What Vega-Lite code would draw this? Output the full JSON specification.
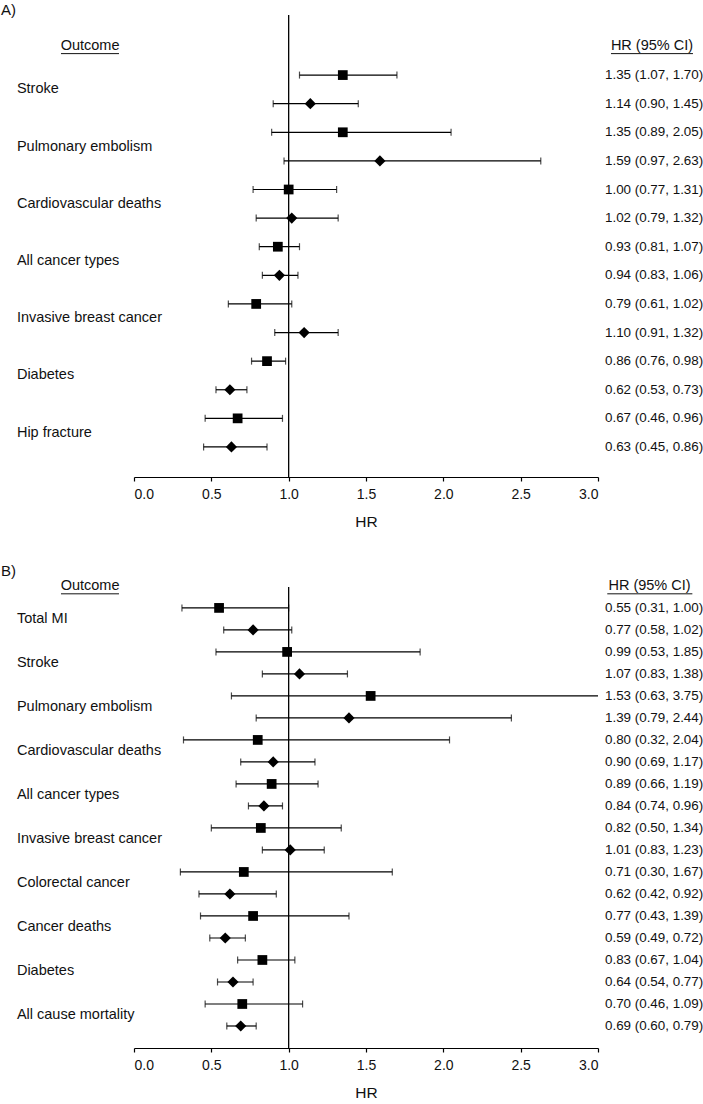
{
  "$schema": "https://vega.github.io/schema/vega-lite/v6.json",
  "padding": {"left": 0, "top": 3, "right": 0, "bottom": 0},
  "spacing": 110,
  "bounds": "flush",
  "config": {
    "view": {"stroke": null},
    "font": "Liberation Sans",
    "axis": {"domainColor": "#000", "tickColor": "#000", "labelColor": "#111", "titleColor": "#111", "labelFontSize": 14, "titleFontSize": 15.5, "titleFontWeight": "normal", "tickSize": 4, "labelPadding": 6, "titlePadding": 13, "grid": false, "domainWidth": 1.2, "tickWidth": 1.2},
    "text": {"color": "#111"}
  },
  "datasets": {
    "a": [
      {"outcome": "Stroke", "row": 0, "shape": "square", "hr": 1.35, "lo": 1.07, "hi": 1.70, "ci": "1.35 (1.07, 1.70)"},
      {"outcome": "Stroke", "row": 1, "shape": "diamond", "hr": 1.14, "lo": 0.90, "hi": 1.45, "ci": "1.14 (0.90, 1.45)"},
      {"outcome": "Pulmonary embolism", "row": 2, "shape": "square", "hr": 1.35, "lo": 0.89, "hi": 2.05, "ci": "1.35 (0.89, 2.05)"},
      {"outcome": "Pulmonary embolism", "row": 3, "shape": "diamond", "hr": 1.59, "lo": 0.97, "hi": 2.63, "ci": "1.59 (0.97, 2.63)"},
      {"outcome": "Cardiovascular deaths", "row": 4, "shape": "square", "hr": 1.00, "lo": 0.77, "hi": 1.31, "ci": "1.00 (0.77, 1.31)"},
      {"outcome": "Cardiovascular deaths", "row": 5, "shape": "diamond", "hr": 1.02, "lo": 0.79, "hi": 1.32, "ci": "1.02 (0.79, 1.32)"},
      {"outcome": "All cancer types", "row": 6, "shape": "square", "hr": 0.93, "lo": 0.81, "hi": 1.07, "ci": "0.93 (0.81, 1.07)"},
      {"outcome": "All cancer types", "row": 7, "shape": "diamond", "hr": 0.94, "lo": 0.83, "hi": 1.06, "ci": "0.94 (0.83, 1.06)"},
      {"outcome": "Invasive breast cancer", "row": 8, "shape": "square", "hr": 0.79, "lo": 0.61, "hi": 1.02, "ci": "0.79 (0.61, 1.02)"},
      {"outcome": "Invasive breast cancer", "row": 9, "shape": "diamond", "hr": 1.10, "lo": 0.91, "hi": 1.32, "ci": "1.10 (0.91, 1.32)"},
      {"outcome": "Diabetes", "row": 10, "shape": "square", "hr": 0.86, "lo": 0.76, "hi": 0.98, "ci": "0.86 (0.76, 0.98)"},
      {"outcome": "Diabetes", "row": 11, "shape": "diamond", "hr": 0.62, "lo": 0.53, "hi": 0.73, "ci": "0.62 (0.53, 0.73)"},
      {"outcome": "Hip fracture", "row": 12, "shape": "square", "hr": 0.67, "lo": 0.46, "hi": 0.96, "ci": "0.67 (0.46, 0.96)"},
      {"outcome": "Hip fracture", "row": 13, "shape": "diamond", "hr": 0.63, "lo": 0.45, "hi": 0.86, "ci": "0.63 (0.45, 0.86)"}
    ],
    "b": [
      {"outcome": "Total MI", "row": 0, "shape": "square", "hr": 0.55, "lo": 0.31, "hi": 1.00, "ci": "0.55 (0.31, 1.00)"},
      {"outcome": "Total MI", "row": 1, "shape": "diamond", "hr": 0.77, "lo": 0.58, "hi": 1.02, "ci": "0.77 (0.58, 1.02)"},
      {"outcome": "Stroke", "row": 2, "shape": "square", "hr": 0.99, "lo": 0.53, "hi": 1.85, "ci": "0.99 (0.53, 1.85)"},
      {"outcome": "Stroke", "row": 3, "shape": "diamond", "hr": 1.07, "lo": 0.83, "hi": 1.38, "ci": "1.07 (0.83, 1.38)"},
      {"outcome": "Pulmonary embolism", "row": 4, "shape": "square", "hr": 1.53, "lo": 0.63, "hi": 3.75, "ci": "1.53 (0.63, 3.75)"},
      {"outcome": "Pulmonary embolism", "row": 5, "shape": "diamond", "hr": 1.39, "lo": 0.79, "hi": 2.44, "ci": "1.39 (0.79, 2.44)"},
      {"outcome": "Cardiovascular deaths", "row": 6, "shape": "square", "hr": 0.80, "lo": 0.32, "hi": 2.04, "ci": "0.80 (0.32, 2.04)"},
      {"outcome": "Cardiovascular deaths", "row": 7, "shape": "diamond", "hr": 0.90, "lo": 0.69, "hi": 1.17, "ci": "0.90 (0.69, 1.17)"},
      {"outcome": "All cancer types", "row": 8, "shape": "square", "hr": 0.89, "lo": 0.66, "hi": 1.19, "ci": "0.89 (0.66, 1.19)"},
      {"outcome": "All cancer types", "row": 9, "shape": "diamond", "hr": 0.84, "lo": 0.74, "hi": 0.96, "ci": "0.84 (0.74, 0.96)"},
      {"outcome": "Invasive breast cancer", "row": 10, "shape": "square", "hr": 0.82, "lo": 0.50, "hi": 1.34, "ci": "0.82 (0.50, 1.34)"},
      {"outcome": "Invasive breast cancer", "row": 11, "shape": "diamond", "hr": 1.01, "lo": 0.83, "hi": 1.23, "ci": "1.01 (0.83, 1.23)"},
      {"outcome": "Colorectal cancer", "row": 12, "shape": "square", "hr": 0.71, "lo": 0.30, "hi": 1.67, "ci": "0.71 (0.30, 1.67)"},
      {"outcome": "Colorectal cancer", "row": 13, "shape": "diamond", "hr": 0.62, "lo": 0.42, "hi": 0.92, "ci": "0.62 (0.42, 0.92)"},
      {"outcome": "Cancer deaths", "row": 14, "shape": "square", "hr": 0.77, "lo": 0.43, "hi": 1.39, "ci": "0.77 (0.43, 1.39)"},
      {"outcome": "Cancer deaths", "row": 15, "shape": "diamond", "hr": 0.59, "lo": 0.49, "hi": 0.72, "ci": "0.59 (0.49, 0.72)"},
      {"outcome": "Diabetes", "row": 16, "shape": "square", "hr": 0.83, "lo": 0.67, "hi": 1.04, "ci": "0.83 (0.67, 1.04)"},
      {"outcome": "Diabetes", "row": 17, "shape": "diamond", "hr": 0.64, "lo": 0.54, "hi": 0.77, "ci": "0.64 (0.54, 0.77)"},
      {"outcome": "All cause mortality", "row": 18, "shape": "square", "hr": 0.70, "lo": 0.46, "hi": 1.09, "ci": "0.70 (0.46, 1.09)"},
      {"outcome": "All cause mortality", "row": 19, "shape": "diamond", "hr": 0.69, "lo": 0.60, "hi": 0.79, "ci": "0.69 (0.60, 0.79)"}
    ]
  },
  "vconcat": [
    {
      "width": 464,
      "height": 462,
      "layer": [
        {
          "data": {"values": [{}]},
          "mark": {"type": "rule", "color": "#000", "strokeWidth": 1.3},
          "encoding": {"x": {"datum": 1, "type": "quantitative", "scale": {"domain": [0, 3], "nice": false, "zero": false}, "axis": {"title": "HR", "values": [0, 0.5, 1, 1.5, 2, 2.5, 3], "format": ".1f"}}}
        },
        {
          "data": {"name": "a"},
          "mark": {"type": "rule", "color": "#000", "strokeWidth": 1.2, "clip": true},
          "encoding": {
            "x": {"field": "lo", "type": "quantitative"},
            "x2": {"field": "hi"},
            "y": {"field": "row", "type": "quantitative", "scale": {"domain": [-2.1, 14.05], "reverse": true, "nice": false, "zero": false}, "axis": null}
          }
        },
        {
          "data": {"name": "a"},
          "mark": {"type": "tick", "orient": "vertical", "color": "#000", "size": 7, "thickness": 1.2, "clip": true},
          "encoding": {"x": {"field": "lo", "type": "quantitative"}, "y": {"field": "row", "type": "quantitative"}}
        },
        {
          "data": {"name": "a"},
          "mark": {"type": "tick", "orient": "vertical", "color": "#000", "size": 7, "thickness": 1.2, "clip": true},
          "encoding": {"x": {"field": "hi", "type": "quantitative"}, "y": {"field": "row", "type": "quantitative"}}
        },
        {
          "data": {"name": "a"},
          "mark": {"type": "point", "filled": true, "color": "#000", "opacity": 1},
          "encoding": {
            "x": {"field": "hr", "type": "quantitative"},
            "y": {"field": "row", "type": "quantitative"},
            "shape": {"field": "shape", "type": "nominal", "scale": {"domain": ["square", "diamond"], "range": ["square", "diamond"]}, "legend": null},
            "size": {"field": "shape", "type": "nominal", "scale": {"domain": ["square", "diamond"], "range": [95, 125]}, "legend": null}
          }
        },
        {
          "data": {"name": "a"},
          "mark": {"type": "text", "align": "left", "baseline": "middle", "fontSize": 13.4},
          "encoding": {"x": {"datum": 3.045, "type": "quantitative"}, "y": {"field": "row", "type": "quantitative"}, "text": {"field": "ci"}}
        },
        {
          "data": {"name": "a"},
          "transform": [{"filter": "datum.shape == 'square'"}],
          "mark": {"type": "text", "align": "left", "baseline": "middle", "fontSize": 14.5, "dy": 14.3},
          "encoding": {"x": {"datum": -0.757, "type": "quantitative"}, "y": {"field": "row", "type": "quantitative"}, "text": {"field": "outcome"}}
        },
        {
          "data": {"values": [{"t": "Outcome"}]},
          "mark": {"type": "text", "align": "center", "baseline": "middle", "fontSize": 14.5},
          "encoding": {"x": {"datum": -0.284, "type": "quantitative"}, "y": {"datum": -1, "type": "quantitative"}, "text": {"field": "t"}}
        },
        {
          "data": {"values": [{}]},
          "mark": {"type": "rule", "color": "#111", "strokeWidth": 1},
          "encoding": {"x": {"datum": -0.472, "type": "quantitative"}, "x2": {"datum": -0.097}, "y": {"datum": -0.75, "type": "quantitative"}}
        },
        {
          "data": {"values": [{"t": "HR (95% CI)"}]},
          "mark": {"type": "text", "align": "center", "baseline": "middle", "fontSize": 14.5},
          "encoding": {"x": {"datum": 3.349, "type": "quantitative"}, "y": {"datum": -1, "type": "quantitative"}, "text": {"field": "t"}}
        },
        {
          "data": {"values": [{}]},
          "mark": {"type": "rule", "color": "#111", "strokeWidth": 1},
          "encoding": {"x": {"datum": 3.084, "type": "quantitative"}, "x2": {"datum": 3.614}, "y": {"datum": -0.75, "type": "quantitative"}}
        },
        {
          "data": {"values": [{"t": "A)"}]},
          "mark": {"type": "text", "align": "left", "baseline": "middle", "fontSize": 15},
          "encoding": {"x": {"datum": -0.86, "type": "quantitative"}, "y": {"datum": -2.27, "type": "quantitative"}, "text": {"field": "t"}}
        }
      ]
    },
    {
      "width": 464,
      "height": 461,
      "layer": [
        {
          "data": {"values": [{}]},
          "mark": {"type": "rule", "color": "#000", "strokeWidth": 1.3},
          "encoding": {"x": {"datum": 1, "type": "quantitative", "scale": {"domain": [0, 3], "nice": false, "zero": false}, "axis": {"title": "HR", "values": [0, 0.5, 1, 1.5, 2, 2.5, 3], "format": ".1f"}}}
        },
        {
          "data": {"name": "b"},
          "mark": {"type": "rule", "color": "#000", "strokeWidth": 1.2, "clip": true},
          "encoding": {
            "x": {"field": "lo", "type": "quantitative"},
            "x2": {"field": "hi"},
            "y": {"field": "row", "type": "quantitative", "scale": {"domain": [-0.95, 20], "reverse": true, "nice": false, "zero": false}, "axis": null}
          }
        },
        {
          "data": {"name": "b"},
          "mark": {"type": "tick", "orient": "vertical", "color": "#000", "size": 7, "thickness": 1.2, "clip": true},
          "encoding": {"x": {"field": "lo", "type": "quantitative"}, "y": {"field": "row", "type": "quantitative"}}
        },
        {
          "data": {"name": "b"},
          "mark": {"type": "tick", "orient": "vertical", "color": "#000", "size": 7, "thickness": 1.2, "clip": true},
          "encoding": {"x": {"field": "hi", "type": "quantitative"}, "y": {"field": "row", "type": "quantitative"}}
        },
        {
          "data": {"name": "b"},
          "mark": {"type": "point", "filled": true, "color": "#000", "opacity": 1},
          "encoding": {
            "x": {"field": "hr", "type": "quantitative"},
            "y": {"field": "row", "type": "quantitative"},
            "shape": {"field": "shape", "type": "nominal", "scale": {"domain": ["square", "diamond"], "range": ["square", "diamond"]}, "legend": null},
            "size": {"field": "shape", "type": "nominal", "scale": {"domain": ["square", "diamond"], "range": [121, 120]}, "legend": null}
          }
        },
        {
          "data": {"name": "b"},
          "mark": {"type": "text", "align": "left", "baseline": "middle", "fontSize": 13.4},
          "encoding": {"x": {"datum": 3.045, "type": "quantitative"}, "y": {"field": "row", "type": "quantitative"}, "text": {"field": "ci"}}
        },
        {
          "data": {"name": "b"},
          "transform": [{"filter": "datum.shape == 'square'"}],
          "mark": {"type": "text", "align": "left", "baseline": "middle", "fontSize": 14.5, "dy": 11},
          "encoding": {"x": {"datum": -0.757, "type": "quantitative"}, "y": {"field": "row", "type": "quantitative"}, "text": {"field": "outcome"}}
        },
        {
          "data": {"values": [{"t": "Outcome"}]},
          "mark": {"type": "text", "align": "center", "baseline": "middle", "fontSize": 14.5},
          "encoding": {"x": {"datum": -0.284, "type": "quantitative"}, "y": {"datum": -1, "type": "quantitative"}, "text": {"field": "t"}}
        },
        {
          "data": {"values": [{}]},
          "mark": {"type": "rule", "color": "#111", "strokeWidth": 1},
          "encoding": {"x": {"datum": -0.472, "type": "quantitative"}, "x2": {"datum": -0.097}, "y": {"datum": -0.64, "type": "quantitative"}}
        },
        {
          "data": {"values": [{"t": "HR (95% CI)"}]},
          "mark": {"type": "text", "align": "center", "baseline": "middle", "fontSize": 14.5},
          "encoding": {"x": {"datum": 3.333, "type": "quantitative"}, "y": {"datum": -1, "type": "quantitative"}, "text": {"field": "t"}}
        },
        {
          "data": {"values": [{}]},
          "mark": {"type": "rule", "color": "#111", "strokeWidth": 1},
          "encoding": {"x": {"datum": 3.06, "type": "quantitative"}, "x2": {"datum": 3.61}, "y": {"datum": -0.64, "type": "quantitative"}}
        },
        {
          "data": {"values": [{"t": "B)"}]},
          "mark": {"type": "text", "align": "left", "baseline": "middle", "fontSize": 15},
          "encoding": {"x": {"datum": -0.86, "type": "quantitative"}, "y": {"datum": -1.66, "type": "quantitative"}, "text": {"field": "t"}}
        }
      ]
    }
  ]
}
